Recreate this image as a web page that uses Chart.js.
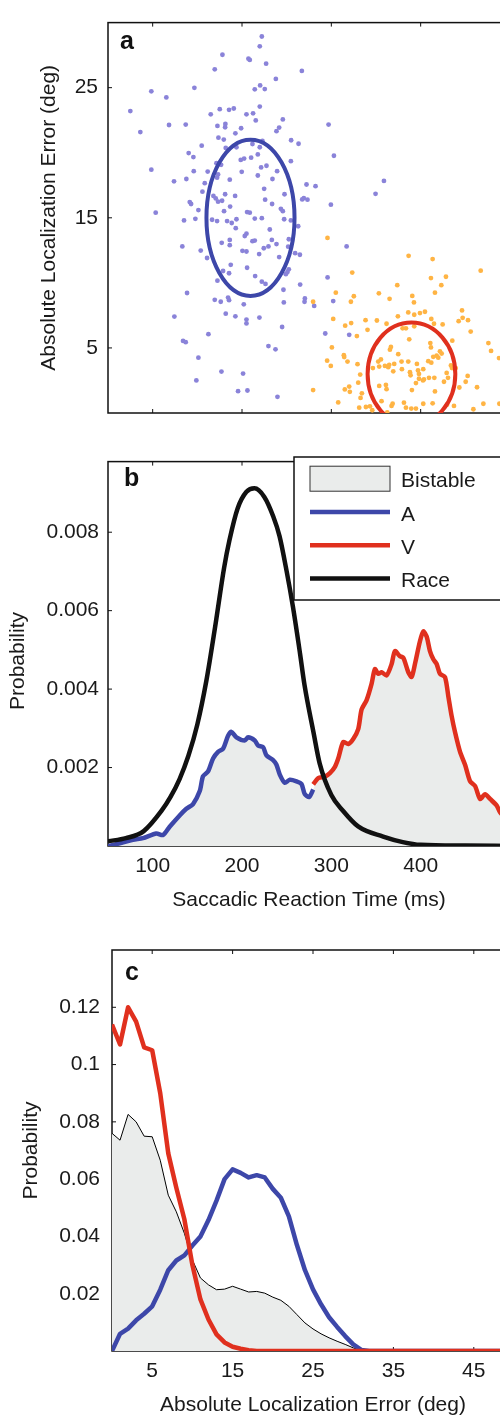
<!DOCTYPE html>
<html><head><meta charset="utf-8">
<script src="https://cdn.jsdelivr.net/npm/chart.js@4.4.1/dist/chart.umd.min.js"></script>
<style>
html,body{margin:0;padding:0;background:#fff;}
body{width:500px;height:1416px;overflow:hidden;position:relative;}
canvas{position:absolute;left:0;}
#ca{top:0;} #cb{top:440px;} #cc{top:920px;}
</style></head><body>
<canvas id="ca" width="540" height="440" style="width:540px;height:440px"></canvas>
<canvas id="cb" width="540" height="480" style="width:540px;height:480px"></canvas>
<canvas id="cc" width="540" height="500" style="width:540px;height:500px"></canvas>
<script>
const FONT = "'Liberation Sans', Arial, Helvetica, sans-serif";
const TXT = '#1a1a1a';
const A_BLUE = '#3d47a9', V_RED = '#e0301e', RACE_BLACK = '#111111', FILL_GRAY = '#eaeceb';
const DOT_BLUE = '#8a83d9', DOT_ORANGE = '#ffb444';

// ---------- Panel a : scatter (x: ms, y: deg) ----------
const aXTicks = [100, 200, 300, 400];
const aYTicks = [5, 15, 25];
const audPoints = [
[222.2,28.93],[219.9,28.18],[178.1,27.53],[207.2,27.23],[208.7,27.13],[227.0,26.84],[169.5,26.41],[267.0,26.29],[237.9,25.67],[146.7,24.99],[98.5,24.72],[220.3,25.17],[214.3,24.87],[225.5,24.89],[115.3,24.25],[75.0,23.2],[165.0,22.95],[175.1,23.35],[185.5,23.3],[190.8,23.4],[205.0,22.95],[212.4,23.03],[219.9,23.55],[215.4,22.48],[245.7,22.56],[86.2,21.59],[118.3,22.13],[137.0,22.16],[172.5,22.06],[181.4,22.21],[181.1,21.96],[199.0,21.88],[192.6,21.49],[241.6,21.93],[238.6,21.66],[296.9,22.16],[173.6,21.16],[179.6,21.01],[222.9,20.91],[211.7,20.67],[219.9,20.42],[255.0,20.96],[263.3,20.69],[154.9,20.54],[181.8,20.37],[193.8,20.42],[140.3,19.97],[145.6,19.67],[302.9,19.77],[198.6,19.45],[202.4,19.55],[210.2,19.62],[217.7,19.87],[171.4,19.2],[176.6,19.07],[254.7,19.35],[98.5,18.7],[227.4,19.0],[221.4,18.87],[146.0,18.58],[161.6,18.55],[199.7,18.53],[217.7,18.25],[239.3,18.58],[137.7,17.98],[123.9,17.8],[173.2,18.33],[172.1,18.08],[186.3,17.93],[234.1,17.98],[158.3,17.66],[272.2,17.56],[282.3,17.43],[155.7,17.01],[224.8,17.23],[168.0,16.68],[170.6,16.49],[181.1,16.81],[192.3,16.68],[247.6,16.81],[177.7,16.31],[173.2,16.24],[225.9,16.39],[141.5,16.21],[143.0,16.06],[267.4,16.41],[269.2,16.51],[273.3,16.39],[186.7,15.86],[151.2,15.59],[233.7,16.06],[299.5,16.01],[103.4,15.39],[179.9,15.51],[205.7,15.44],[208.7,15.39],[243.5,15.69],[245.7,15.51],
[135.1,14.8],[147.8,14.92],[166.5,14.85],[172.1,14.75],[183.3,14.75],[188.5,14.6],[193.8,14.89],[193.0,14.2],[214.3,14.94],[222.2,14.97],[247.2,14.89],[254.7,14.8],[262.9,14.35],[231.1,14.1],[205.0,13.78],[203.1,13.6],[211.7,13.2],[214.3,13.25],[233.4,13.3],[238.6,12.98],[186.3,13.3],[186.3,12.9],[177.3,13.08],[133.2,12.8],[153.8,12.48],[160.9,11.91],[200.5,12.46],[205.0,12.41],[219.2,12.21],[224.4,12.66],[229.6,12.8],[241.6,11.98],[252.4,13.35],[251.7,12.78],[259.5,12.28],[264.8,12.16],[187.4,11.39],[205.7,11.16],[178.8,10.91],[185.5,10.74],[172.5,10.17],[214.7,10.52],[222.2,10.09],[226.3,9.92],[252.4,11.04],[250.9,10.84],[249.1,10.67],[265.1,9.87],[246.4,9.47],[138.5,9.22],[169.5,8.7],[176.2,8.55],[184.4,8.87],[185.5,8.67],[202.0,8.35],[246.8,8.5],[270.4,8.8],[270.0,8.55],[280.8,8.23],[302.1,8.6],[295.8,10.42],[317.1,12.8],[124.3,7.41],[181.8,7.63],[192.6,7.43],[205.0,7.18],[205.0,6.88],[219.5,7.33],[244.9,6.61],[293.2,6.11],[320.0,6.01],[162.4,6.06],[134.0,5.54],[137.0,5.44],[229.6,5.14],[237.5,4.89],[151.2,4.25],[177.0,3.18],[201.2,3.03],[148.9,2.5],[195.6,1.68],[206.1,1.73],[239.7,1.24],[349.5,16.84],[358.9,17.83]
];
const visPoints = [
[295.7,13.45],[386.5,12.08],[413.4,11.83],[323.4,10.79],[467.2,10.94],[411.5,10.37],[428.3,10.47],[423.1,9.82],[373.8,9.82],[279.6,8.55],[305.0,9.25],[325.2,8.97],[321.9,8.55],[353.2,9.2],[365.2,8.77],[390.6,9.0],[392.5,8.5],[416.0,9.25],[374.5,7.43],[386.1,7.73],[392.8,7.55],[399.2,7.68],[404.8,7.78],[411.9,7.23],[414.9,6.86],[424.6,6.81],[446.3,7.88],[442.5,7.06],[447.0,7.31],[453.0,7.13],[456.0,6.26],[302.1,7.23],[315.5,6.71],[322.2,6.91],[338.3,7.13],[351.0,7.11],[340.5,6.39],[328.6,5.91],[361.8,6.86],[379.8,6.51],[383.5,6.51],[392.8,6.66],[435.4,5.56],[475.8,5.37],[478.8,4.77],[487.7,4.22],[300.6,5.04],[387.2,5.66],[365.6,4.87],[366.7,5.07],[374.9,4.52],[410.8,5.37],[411.5,5.04],[421.6,4.74],[417.9,4.4],[414.1,4.32],[423.5,4.57],[419.7,4.25],[378.6,3.95],[355.5,4.12],[352.5,3.95],[360.0,3.62],[353.6,3.57],[370.4,3.77],[364.8,3.7],[363.7,3.52],[386.1,3.95],[395.8,3.77],[408.5,3.98],[411.9,3.87],[346.5,3.45],[369.3,3.2],[379.0,3.37],[388.0,3.13],[388.7,2.9],[397.0,3.27],[398.1,3.0],[402.9,3.37],[409.3,2.7],[415.3,2.7],[398.1,2.63],[403.7,2.58],[429.1,3.08],[433.9,3.65],[435.1,3.45],[439.2,3.45],[295.3,4.02],[299.4,3.62],[314.0,4.44],[314.4,4.3],[318.1,3.95],[329.3,3.75],[332.3,2.95],[330.1,2.33],[320.0,2.03],[320.7,1.63],[315.1,1.81],[334.2,1.51],[332.7,1.16],[279.6,1.76],[307.7,0.81],[353.6,2.08],[361.1,2.16],[361.8,1.83],[390.2,1.76],[394.7,2.3],[402.6,2.5],[416.0,1.66],[426.1,2.4],[430.6,2.7],[443.3,1.96],[450.4,2.4],[452.6,2.85],[463.1,1.98],[331.2,0.41],[338.7,0.46],[343.2,0.51],[345.8,0.21],[356.2,0.91],[362.6,0.04],[367.4,0.54],[368.6,0.71],[381.3,0.79],[383.5,0.41],[389.5,0.34],[394.7,0.34],[402.9,0.71],[413.4,0.74],[429.5,0.64],[437.3,0.54],[459.0,0.29],[470.2,0.71],[488.1,0.71]
];
// covariance ellipses: centre (ms, deg) and radii (ms, deg)
const ellipseCx = [209.5, 389.7];
const ellipseCy = [15.0, 3.0];
const ellipseRx = [49.3, 49.1];
const ellipseRy = [6.0, 3.95];
const ellipseColors = [A_BLUE, V_RED];

// ---------- Panel b : SRT distributions ----------
const bXTicks = [100, 200, 300, 400];
const bYTicks = [0.002, 0.004, 0.006, 0.008];
const aMs   = [50,51.8,77.9,89.1,104.1,111.6,119.0,130.2,137.7,145.2,152.7,156.4,162.0,167.6,173.2,178.8,184.4,188.2,193.8,203.1,206.8,214.3,218.0,223.6,227.4,234.8,238.6,242.3,247.9,253.5,261.0,266.6,270.3,275.2,279.7];
const aProb = [0,0,0.00016,0.0002,0.00032,0.00028,0.00049,0.00078,0.00095,0.00107,0.0014,0.00178,0.0019,0.00223,0.0024,0.00248,0.00281,0.00291,0.00277,0.00269,0.00277,0.00269,0.00256,0.00252,0.00231,0.00219,0.00207,0.00182,0.00161,0.00169,0.00165,0.00158,0.00132,0.00125,0.00144];
const vMs   = [279.7,285.3,292.8,298.4,304.0,307.7,313.3,318.9,324.5,330.1,333.9,339.5,345.1,348.8,352.5,356.3,361.9,367.5,371.2,376.8,380.6,386.2,389.9,393.6,399.2,403.0,406.7,410.4,414.2,417.9,421.6,427.2,431.0,434.7,438.5,444.1,449.7,455.3,460.9,466.5,472.1,477.7,485.2,488.9,500];
const vProb = [0.00157,0.00173,0.00177,0.00186,0.00202,0.00223,0.00265,0.0026,0.00273,0.00298,0.00348,0.00372,0.00414,0.00451,0.00439,0.00443,0.00435,0.00464,0.00497,0.00484,0.0048,0.00443,0.00431,0.00464,0.00522,0.00547,0.00534,0.00497,0.00476,0.00464,0.00439,0.00431,0.00381,0.00331,0.0029,0.0024,0.00207,0.00165,0.00153,0.0012,0.00132,0.0012,0.00103,0.00086,0.0006];
const raceMs   = [50,70,90,110,120,130,140,150,160,170,180,186,195,205,214,225,235,242,250,257,265,270,280,287,300,313,330,358,380,400,450,500];
const raceProb = [0.00012,0.0002,0.00038,0.0009,0.00125,0.0017,0.0023,0.0031,0.0042,0.0056,0.0071,0.0078,0.0086,0.00903,0.00912,0.0089,0.0084,0.0079,0.007,0.0061,0.0049,0.0041,0.0029,0.0021,0.0013,0.0009,0.0005,0.00024,0.0001,0.00003,0.00001,0];
const legendLabels = ['Bistable', 'A', 'V', 'Race'];
const legendKinds  = ['box', 'line', 'line', 'line'];
const legendColors = [FILL_GRAY, A_BLUE, V_RED, RACE_BLACK];

// ---------- Panel c : localization error distributions ----------
const cXTicks = [5, 15, 25, 35, 45];
const cYTicks = [0.02, 0.04, 0.06, 0.08, 0.1, 0.12];
const errDeg = [0,1,2,3,4,5,6,7,8,9,10,11,12,13,14,15,16,17,18,19,20,21,22,23,24,25,26,27,28,29,30,31,32,33,34,35,36,37,38,39,40,41,42,43,44,45,46,47,48,49,50];
const vErr = [0.114,0.107,0.120,0.115,0.106,0.105,0.090,0.069,0.057,0.046,0.030,0.018,0.011,0.0058,0.003,0.0015,0.0008,0.0003,0,0,0,0,0,0,0,0,0,0,0,0,0,0,0,0,0,0,0,0,0,0,0,0,0,0,0,0,0,0,0,0,0];
const aErr = [0,0.006,0.0078,0.0107,0.013,0.0156,0.0214,0.0282,0.0316,0.0334,0.0368,0.04,0.0457,0.0525,0.06,0.0634,0.0622,0.0606,0.0614,0.0606,0.0566,0.0535,0.047,0.037,0.0282,0.0215,0.0163,0.0118,0.0084,0.0052,0.0023,0.0004,0,0,0,0,0,0,0,0,0,0,0,0,0,0,0,0,0,0,0];
const bisErr = [0.076,0.0736,0.0826,0.080,0.075,0.0748,0.0666,0.0544,0.0486,0.0411,0.0318,0.0255,0.0231,0.0214,0.0216,0.0226,0.0216,0.0206,0.0208,0.0202,0.0188,0.0177,0.0156,0.0127,0.0098,0.0077,0.006,0.0046,0.0034,0.0023,0.0011,0.0002,0,0,0,0,0,0,0,0,0,0,0,0,0,0,0,0,0,0,0];

// ---------- helpers ----------
Chart.defaults.font.family = FONT;
Chart.defaults.color = TXT;

function xScale(min, max, ticks, o) {
  return {
    type: 'linear', position: 'bottom', min, max,
    grid: { display: false, drawTicks: false }, border: { display: false },
    afterBuildTicks: s => { s.ticks = ticks.map(v => ({ value: v })); },
    afterFit: s => { s.height = o.height; },
    ticks: { display: o.labels, padding: o.pad, autoSkip: false, maxRotation: 0, font: { size: 21 }, color: TXT, callback: v => String(v) },
    title: o.title ? { display: true, text: o.title, color: TXT, font: { size: 21 }, padding: { top: 0, bottom: o.titlePad } } : { display: false }
  };
}
function yScale(min, max, ticks, o) {
  return {
    type: 'linear', position: 'left', min, max,
    grid: { display: false, drawTicks: false }, border: { display: false },
    afterBuildTicks: s => { s.ticks = ticks.map(v => ({ value: v })); },
    afterFit: s => { s.width = o.width; },
    ticks: { padding: o.pad, autoSkip: false, font: { size: 21 }, color: TXT, callback: v => String(v) },
    title: o.title ? { display: true, text: o.title, color: TXT, font: { size: 21 }, padding: { top: o.titlePad, bottom: 0 } } : { display: false }
  };
}

const frame = {
  id: 'frame',
  beforeDatasetsDraw(chart, args, o) {
    const { ctx, chartArea: a } = chart;
    const x = chart.scales.x, y = chart.scales.y;
    ctx.save();
    ctx.strokeStyle = '#111'; ctx.lineWidth = 1.5;
    ctx.strokeRect(a.left, a.top, a.right - a.left, a.bottom - a.top);
    ctx.lineWidth = 1; ctx.beginPath();
    const L = 4;
    x.ticks.forEach(t => { const p = x.getPixelForValue(t.value);
      ctx.moveTo(p, a.bottom); ctx.lineTo(p, a.bottom - L);
      ctx.moveTo(p, a.top); ctx.lineTo(p, a.top + L); });
    y.ticks.forEach(t => { const p = y.getPixelForValue(t.value);
      ctx.moveTo(a.left, p); ctx.lineTo(a.left + L, p); });
    ctx.stroke();
    ctx.restore();
  },
  afterDatasetsDraw(chart, args, o) {
    const { ctx, chartArea: a } = chart;
    ctx.save();
    ctx.fillStyle = '#111'; ctx.font = 'bold 25px ' + FONT;
    ctx.textBaseline = 'alphabetic'; ctx.textAlign = 'left';
    ctx.fillText(o.letter, a.left + o.dx, a.top + o.dy);
    if (o.yTitle) {
      ctx.fillStyle = TXT; ctx.font = '21px ' + FONT;
      ctx.textAlign = 'center'; ctx.textBaseline = 'middle';
      ctx.translate(o.yTitle.x, o.yTitle.y); ctx.rotate(-Math.PI / 2);
      ctx.fillText(o.yTitle.text, 0, 0);
    }
    ctx.restore();
  }
};

const ellipses = {
  id: 'ellipses',
  afterDatasetsDraw(chart) {
    const { ctx, chartArea: a } = chart;
    const x = chart.scales.x, y = chart.scales.y;
    ctx.save();
    ctx.beginPath(); ctx.rect(a.left, a.top, a.right - a.left, a.bottom - a.top); ctx.clip();
    ellipseCx.forEach((cx, i) => {
      const px = x.getPixelForValue(cx), py = y.getPixelForValue(ellipseCy[i]);
      const rx = Math.abs(x.getPixelForValue(cx + ellipseRx[i]) - px);
      const ry = Math.abs(y.getPixelForValue(ellipseCy[i] + ellipseRy[i]) - py);
      ctx.beginPath(); ctx.ellipse(px, py, rx, ry, 0, 0, Math.PI * 2);
      ctx.strokeStyle = ellipseColors[i]; ctx.lineWidth = 4; ctx.stroke();
    });
    ctx.restore();
  }
};

const boxLegend = {
  id: 'boxLegend',
  afterDatasetsDraw(chart, args, o) {
    const ctx = chart.ctx;
    ctx.save();
    ctx.fillStyle = '#fff'; ctx.fillRect(o.x, o.y, o.w, o.h);
    ctx.strokeStyle = '#111'; ctx.lineWidth = 1.5; ctx.strokeRect(o.x, o.y, o.w, o.h);
    ctx.font = '21px ' + FONT; ctx.textAlign = 'left'; ctx.textBaseline = 'alphabetic';
    legendLabels.forEach((lab, i) => {
      const cy = o.y + o.first + i * o.gap;
      if (legendKinds[i] === 'box') {
        ctx.fillStyle = legendColors[i]; ctx.fillRect(o.x + 16, cy - 12.5, 80, 25);
        ctx.strokeStyle = '#333'; ctx.lineWidth = 1; ctx.strokeRect(o.x + 16, cy - 12.5, 80, 25);
      } else {
        ctx.strokeStyle = legendColors[i]; ctx.lineWidth = 4.5; ctx.lineCap = 'butt';
        ctx.beginPath(); ctx.moveTo(o.x + 16, cy); ctx.lineTo(o.x + 96, cy); ctx.stroke();
      }
      ctx.fillStyle = TXT; ctx.fillText(lab, o.x + 107, cy + 8.7);
    });
    ctx.restore();
  }
};

const pts = (xs, ys) => xs.map((v, i) => ({ x: v, y: ys[i] }));
const pairPts = arr => arr.map(p => ({ x: p[0], y: p[1] }));
const base = { responsive: false, animation: false, devicePixelRatio: 1, events: [],
  plugins: { legend: { display: false }, tooltip: { enabled: false } } };

// Panel a
new Chart(document.getElementById('ca'), {
  type: 'scatter',
  data: { datasets: [
    { label: 'V', data: pairPts(visPoints), backgroundColor: DOT_ORANGE, pointRadius: 2.4, pointBorderWidth: 0, order: 1 },
    { label: 'A', data: pairPts(audPoints), backgroundColor: DOT_BLUE, pointRadius: 2.4, pointBorderWidth: 0, order: 2 }
  ] },
  options: Object.assign({}, base, {
    layout: { padding: { left: 0, top: 12, right: 30, bottom: 0 } },
    scales: {
      x: xScale(50, 500, aXTicks, { height: 27, labels: false, pad: 7 }),
      y: yScale(0, 30, aYTicks, { width: 108, pad: 10, title: 'Absolute Localization Error (deg)', titlePad: 37 })
    },
    plugins: Object.assign({}, base.plugins, { frame: { letter: 'a', dx: 12, dy: 26 } })
  }),
  plugins: [frame, ellipses]
});

// Panel b : the grey "Bistable" area is the union of the A and V curves
const bistablePts = pts(aMs, aProb).concat(pts(vMs, vProb).slice(1));
new Chart(document.getElementById('cb'), {
  type: 'line',
  data: { datasets: [
    { label: 'Race', data: pts(raceMs, raceProb), borderColor: RACE_BLACK, borderWidth: 4.5, fill: false, pointRadius: 0, cubicInterpolationMode: 'monotone', order: 1 },
    { label: 'V', data: pts(vMs, vProb), borderColor: V_RED, borderWidth: 4.5, fill: false, pointRadius: 0, tension: 0.25, borderJoinStyle: 'round', order: 2 },
    { label: 'A', data: pts(aMs, aProb), borderColor: A_BLUE, borderWidth: 4.5, fill: false, pointRadius: 0, tension: 0.25, borderJoinStyle: 'round', order: 3 },
    { label: 'Bistable', data: bistablePts, borderWidth: 0, borderColor: 'rgba(0,0,0,0)', backgroundColor: FILL_GRAY, fill: 'origin', pointRadius: 0, tension: 0.25, order: 4 }
  ] },
  options: Object.assign({}, base, {
    layout: { padding: { left: 0, top: 12, right: 30, bottom: 0 } },
    scales: {
      x: xScale(50, 500, bXTicks, { height: 74, labels: true, pad: 7.4, title: 'Saccadic Reaction Time (ms)', titlePad: 7.4 }),
      y: yScale(0, 0.0098, bYTicks, { width: 108, pad: 9 })
    },
    plugins: Object.assign({}, base.plugins, {
      frame: { letter: 'b', dx: 16, dy: 24.7, yTitle: { text: 'Probability', x: 18, y: 221 } },
      boxLegend: { x: 294, y: 17, w: 250, h: 143, first: 21.7, gap: 33.3 }
    })
  }),
  plugins: [frame, boxLegend]
});

// Panel c
new Chart(document.getElementById('cc'), {
  type: 'line',
  data: { datasets: [
    { label: 'V', data: pts(errDeg, vErr), borderColor: V_RED, borderWidth: 4.5, fill: false, pointRadius: 0, tension: 0, borderJoinStyle: 'round', order: 1 },
    { label: 'A', data: pts(errDeg, aErr), borderColor: A_BLUE, borderWidth: 4.5, fill: false, pointRadius: 0, tension: 0, borderJoinStyle: 'round', order: 2 },
    { label: 'Bistable', data: pts(errDeg, bisErr), borderColor: '#000', backgroundColor: FILL_GRAY, borderWidth: 1, fill: 'origin', pointRadius: 0, tension: 0, order: 3 }
  ] },
  options: Object.assign({}, base, {
    layout: { padding: { left: 0, top: 30, right: 26, bottom: 0 } },
    scales: {
      x: xScale(0, 50, cXTicks, { height: 69, labels: true, pad: 8.1, title: 'Absolute Localization Error (deg)', titlePad: 2.4 }),
      y: yScale(0, 0.14, cYTicks, { width: 112, pad: 12, title: 'Probability', titlePad: 19 })
    },
    plugins: Object.assign({}, base.plugins, { frame: { letter: 'c', dx: 13, dy: 30 } })
  }),
  plugins: [frame]
});
</script>
</body></html>
